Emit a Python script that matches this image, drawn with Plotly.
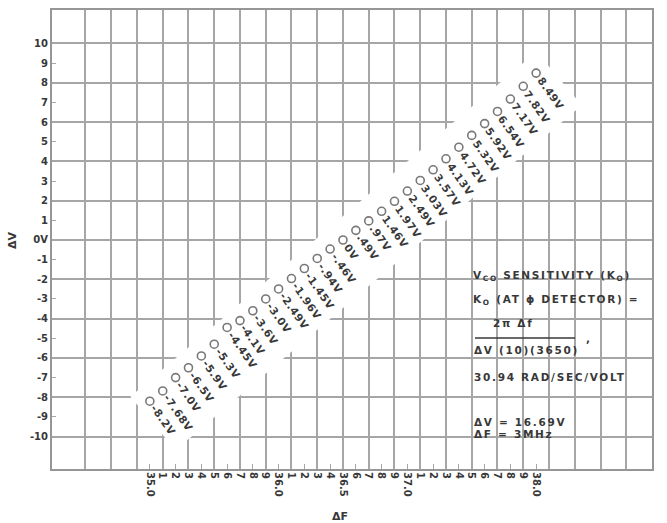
import plotly.graph_objects as go

# ---------------- data ----------------
delta_f = [35.0, 35.1, 35.2, 35.3, 35.4, 35.5, 35.6, 35.7, 35.8, 35.9,
           36.0, 36.1, 36.2, 36.3, 36.4, 36.5, 36.6, 36.7, 36.8, 36.9,
           37.0, 37.1, 37.2, 37.3, 37.4, 37.5, 37.6, 37.7, 37.8, 37.9, 38.0]
delta_v = [-8.2, -7.68, -7.0, -6.5, -5.9, -5.3, -4.45, -4.1, -3.6, -3.0,
           -2.49, -1.96, -1.45, -0.94, -0.46, 0.0, 0.49, 0.97, 1.46, 1.97,
           2.49, 3.03, 3.57, 4.13, 4.72, 5.32, 5.92, 6.54, 7.17, 7.82, 8.49]
point_labels = ["-8.2V", "-7.68V", "-7.0V", "-6.5V", "-5.9V", "-5.3V", "-4.45V",
                "-4.1V", "-3.6V", "-3.0V", "-2.49V", "-1.96V", "-1.45V", "-.94V",
                "-.46V", "0V", ".49V", ".97V", "1.46V", "1.97V", "2.49V", "3.03V",
                "3.57V", "4.13V", "4.72V", "5.32V", "5.92V", "6.54V", "7.17V",
                "7.82V", "8.49V"]

x_tick_text = ["35.0", "1", "2", "3", "4", "5", "6", "7", "8", "9",
               "36.0", "1", "2", "3", "4", "36.5", "6", "7", "8", "9",
               "37.0", "1", "2", "3", "4", "5", "6", "7", "8", "9", "38.0"]
x_grid_vals = [34.5, 34.7, 34.9, 35.1, 35.3, 35.5, 35.7, 35.9, 36.1, 36.3, 36.5,
               36.7, 36.9, 37.1, 37.3, 37.5, 37.7, 37.9, 38.1, 38.3, 38.5, 38.7]
y_tick_vals = [10, 9, 8, 7, 6, 5, 4, 3, 2, 1, 0, -1, -2, -3, -4, -5, -6, -7, -8, -9, -10]
y_tick_text = ["10", "9", "8", "7", "6", "5", "4", "3", "2", "1", "0V",
               "-1", "-2", "-3", "-4", "-5", "-6", "-7", "-8", "-9", "-10"]
y_grid_vals = [-10, -8, -6, -4, -2, 0, 2, 4, 6, 8, 10]

# ---------------- geometry / style ----------------
WIDTH, HEIGHT = 667, 523
L, R, T, B = 52, 15, 10, 54
PW, PH = WIDTH - L - R, HEIGHT - T - B
x_range = [34.24, 38.9]
y_range = [-11.65, 11.7]

GRID = "#a6a6a6"
BORDER = "#969696"
INK = "#383838"
CIRCLE = "#787878"
FONT = "DejaVu Sans"


def d2px(x, y):
    px = L + (x - x_range[0]) / (x_range[1] - x_range[0]) * PW
    py = T + (y_range[1] - y) / (y_range[1] - y_range[0]) * PH
    return px, py


def px2d(px, py):
    x = x_range[0] + (px - L) / PW * (x_range[1] - x_range[0])
    y = y_range[1] - (py - T) / PH * (y_range[1] - y_range[0])
    return x, y


def px2paper(px, py):
    return (px - L) / PW, 1 - (py - T) / PH


fig = go.Figure()

fig.add_trace(go.Scatter(
    x=delta_f, y=delta_v, mode="markers",
    marker=dict(symbol="circle", size=8, color="white",
                line=dict(color=CIRCLE, width=1.6)),
    hoverinfo="skip", showlegend=False,
))

# white band behind the labelled points (masks the grid), derived from data ends
sx, sy = d2px(delta_f[0], delta_v[0])
ex, ey = d2px(delta_f[-1], delta_v[-1])
ln = ((ex - sx) ** 2 + (ey - sy) ** 2) ** 0.5
dx, dy = (ex - sx) / ln, (ey - sy) / ln
nux, nuy = dy, -dx          # perpendicular pointing up-left
if nux > 0:
    nux, nuy = -nux, -nuy
corners_px = [
    (sx - 12 * dx + 16 * nux, sy - 12 * dy + 16 * nuy),
    (ex + 14 * dx + 16 * nux, ey + 14 * dy + 16 * nuy),
    (ex + 14 * dx - 54 * nux, ey + 14 * dy - 54 * nuy),
    (sx - 12 * dx - 54 * nux, sy - 12 * dy - 54 * nuy),
]
corners = [px2d(*c) for c in corners_px]
path = "M " + " L ".join(f"{cx},{cy}" for cx, cy in corners) + " Z"

shapes = [dict(type="path", path=path, xref="x", yref="y", layer="between",
               fillcolor="white", line=dict(width=0))]

# white areas behind the note block
for (x0, y0, x1, y1) in [(462, 262, 642, 398), (462, 398, 568, 450)]:
    p0 = px2paper(x0, y1)
    p1 = px2paper(x1, y0)
    shapes.append(dict(type="rect", xref="paper", yref="paper",
                       x0=p0[0], y0=p0[1], x1=p1[0], y1=p1[1],
                       layer="between", fillcolor="white", line=dict(width=0)))

# fraction bar
fa = px2paper(475, 338)
fb = px2paper(575, 338)
shapes.append(dict(type="line", xref="paper", yref="paper",
                   x0=fa[0], y0=fa[1], x1=fb[0], y1=fb[1],
                   line=dict(color=INK, width=1.3)))

annotations = []
for xv, yv, lab in zip(delta_f, delta_v, point_labels):
    annotations.append(dict(
        x=xv, y=yv, xref="x", yref="y",
        text=f'<span style="letter-spacing:0.6px">{lab}</span>',
        textangle=55, xanchor="left", yanchor="top", xshift=-4, yshift=1,
        showarrow=False, font=dict(family=FONT, size=10.5, color=INK, weight="bold")))


def note(px, py, text, anchor="left", size=10.5):
    xp, yp = px2paper(px, py)
    annotations.append(dict(
        x=xp, y=yp, xref="paper", yref="paper", xanchor=anchor, yanchor="middle",
        text=f'<span style="letter-spacing:1.7px">{text}</span>', showarrow=False,
        font=dict(family=FONT, size=size, color=INK, weight="bold")))


note(471, 276, "V<sub>CO</sub> SENSITIVITY (K<sub>O</sub>)")
note(471, 300, "K<sub>O</sub> (AT ϕ DETECTOR) =")
note(513, 323, "2π Δf", anchor="center")
note(472, 350, "ΔV (10)(3650)")
note(584, 338, ",")
note(472, 377, "30.94 RAD/SEC/VOLT")
note(472, 422, "ΔV = 16.69V")
note(472, 434, "ΔF = 3MHz")

# axis titles
xt = px2paper(340, 516)
annotations.append(dict(x=xt[0], y=xt[1], xref="paper", yref="paper", text="ΔF",
                        xanchor="center", yanchor="middle", showarrow=False,
                        font=dict(family=FONT, size=11, color=INK, weight="bold")))
yt = px2paper(13, 240)
annotations.append(dict(x=yt[0], y=yt[1], xref="paper", yref="paper", text="ΔV",
                        xanchor="center", yanchor="middle", textangle=-90,
                        showarrow=False,
                        font=dict(family=FONT, size=11, color=INK, weight="bold")))

fig.update_layout(
    width=WIDTH, height=HEIGHT,
    margin=dict(l=L, r=R, t=T, b=B, pad=0),
    paper_bgcolor="white", plot_bgcolor="white",
    showlegend=False,
    shapes=shapes, annotations=annotations,
    xaxis=dict(
        range=x_range, tickmode="array", tickvals=delta_f, ticktext=x_tick_text,
        tickangle=90, ticks="inside", ticklen=5, tickwidth=1.3, tickcolor=GRID,
        tickfont=dict(family=FONT, size=10, color=INK, weight="bold"),
        ticklabelstandoff=-1, automargin=False,
        showgrid=False, zeroline=False, showline=True, mirror=True,
        linecolor=BORDER, linewidth=2,
        minor=dict(tickmode="array", tickvals=x_grid_vals, showgrid=True,
                   gridcolor=GRID, gridwidth=1.5, ticks=""),
    ),
    yaxis=dict(
        range=y_range, tickmode="array", tickvals=y_tick_vals, ticktext=y_tick_text,
        ticks="inside", ticklen=4, tickwidth=1.3, tickcolor=GRID,
        tickfont=dict(family=FONT, size=10, color=INK, weight="bold"),
        automargin=False,
        showgrid=False, zeroline=False, showline=True, mirror=True,
        linecolor=BORDER, linewidth=2,
        minor=dict(tickmode="array", tickvals=y_grid_vals, showgrid=True,
                   gridcolor=GRID, gridwidth=1.5, ticks=""),
    ),
)

fig.write_html("out.html", config={"displayModeBar": False},
               post_script="document.body.style.margin='0';")
